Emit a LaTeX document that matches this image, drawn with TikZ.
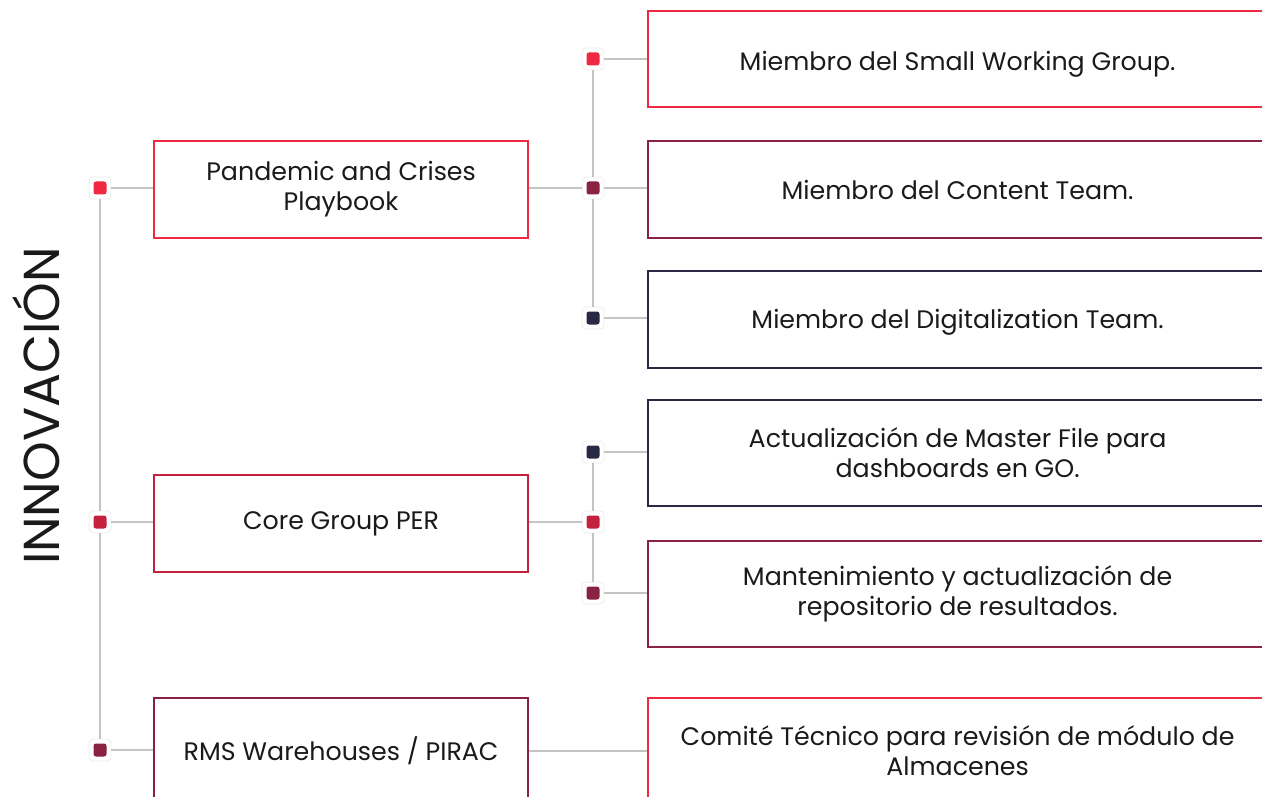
\documentclass[tikz,border=0pt]{standalone}
\usepackage{fontspec}
\setmainfont{Poppins}
\definecolor{cred}{HTML}{EE2941}
\definecolor{ccrim}{HTML}{C4213F}
\definecolor{cmar}{HTML}{8A2341}
\definecolor{cnavy}{HTML}{2A2945}
\definecolor{cline}{HTML}{C4C4C4}
\definecolor{ctext}{HTML}{1A1A1A}
\definecolor{cmarkedge}{HTML}{EDEDED}
\tikzset{
  box/.style={draw=#1, line width=2.2pt, align=center, inner sep=0pt, text=ctext, anchor=north west},
  leftbox/.style={box=#1, minimum width=374pt},
  rightbox/.style={box=#1, minimum width=619pt},
  marker/.style={draw=cmarkedge, line width=0.8pt, fill=white, rounded corners=4pt, minimum size=22pt, inner sep=0pt,
    path picture={\fill[#1, rounded corners=2.5pt] ([shift={(-6.5pt,-6.5pt)}]path picture bounding box.center) rectangle ([shift={(6.5pt,6.5pt)}]path picture bounding box.center);}},
  conn/.style={draw=cline, line width=2.2pt}
}
\begin{document}
\begin{tikzpicture}[x=1pt,y=-1pt, font=\fontsize{25.3}{30}\selectfont]
\useasboundingbox (0,0) rectangle (1262,797);
\clip (0,0) rectangle (1262,797);
% title
\node[rotate=90, font=\fontsize{50.5}{50}\selectfont, text=ctext] (title) at (36,406) {INNOVACIÓN};
% left boxes
\node[leftbox=cred, minimum height=97pt] (L1) at (153,140) {Pandemic and Crises\\Playbook};
\node[leftbox=ccrim, minimum height=97pt] (L2) at (153,474) {Core Group PER};
\node[leftbox=cmar, minimum height=106pt] (L3) at (153,697) {RMS Warehouses / PIRAC};
% right boxes
\node[rightbox=cred, minimum height=96pt] (R1) at (647,10) {\rule{0pt}{29pt}Miembro del Small Working Group.};
\node[rightbox=cmar, minimum height=97pt] (R2) at (647,140) {\rule{0pt}{21pt}Miembro del Content Team.};
\node[rightbox=cnavy, minimum height=97pt] (R3) at (647,270) {\rule{0pt}{25pt}Miembro del Digitalization Team.};
\node[rightbox=cnavy, minimum height=106pt] (R4) at (647,399) {Actualización de Master File para\\dashboards en GO.};
\node[rightbox=cmar, minimum height=106pt] (R5) at (647,540) {Mantenimiento y actualización de\\repositorio de resultados.};
\node[rightbox=cred, minimum height=106pt] (R6) at (647,697) {Comité Técnico para revisión de módulo de\\Almacenes};
% markers
\node[marker=cred] (mL1) at (100,188) {};
\node[marker=ccrim] (mL2) at (100,522) {};
\node[marker=cmar] (mL3) at (100,750) {};
\node[marker=cred] (mA1) at (593,59) {};
\node[marker=cmar] (mA2) at (593,188) {};
\node[marker=cnavy] (mA3) at (593,318) {};
\node[marker=cnavy] (mB1) at (593,452) {};
\node[marker=ccrim] (mB2) at (593,522) {};
\node[marker=cmar] (mB3) at (593,593) {};
% connectors
\draw[conn] (mL1) -- (mL2);
\draw[conn] (mL2) -- (mL3);
\draw[conn] (mL1) -- (mL1 -| L1.west);
\draw[conn] (mL2) -- (mL2 -| L2.west);
\draw[conn] (mL3) -- (mL3 -| L3.west);
\draw[conn] (mA2 -| L1.east) -- (mA2);
\draw[conn] (mB2 -| L2.east) -- (mB2);
\draw[conn] (mA1) -- (mA2);
\draw[conn] (mA2) -- (mA3);
\draw[conn] (mB1) -- (mB2);
\draw[conn] (mB2) -- (mB3);
\draw[conn] (mA1) -- (mA1 -| R1.west);
\draw[conn] (mA2) -- (mA2 -| R2.west);
\draw[conn] (mA3) -- (mA3 -| R3.west);
\draw[conn] (mB1) -- (mB1 -| R4.west);
\draw[conn] (mB3) -- (mB3 -| R5.west);
\draw[conn] (L3) -- (R6);
\end{tikzpicture}
\end{document}
